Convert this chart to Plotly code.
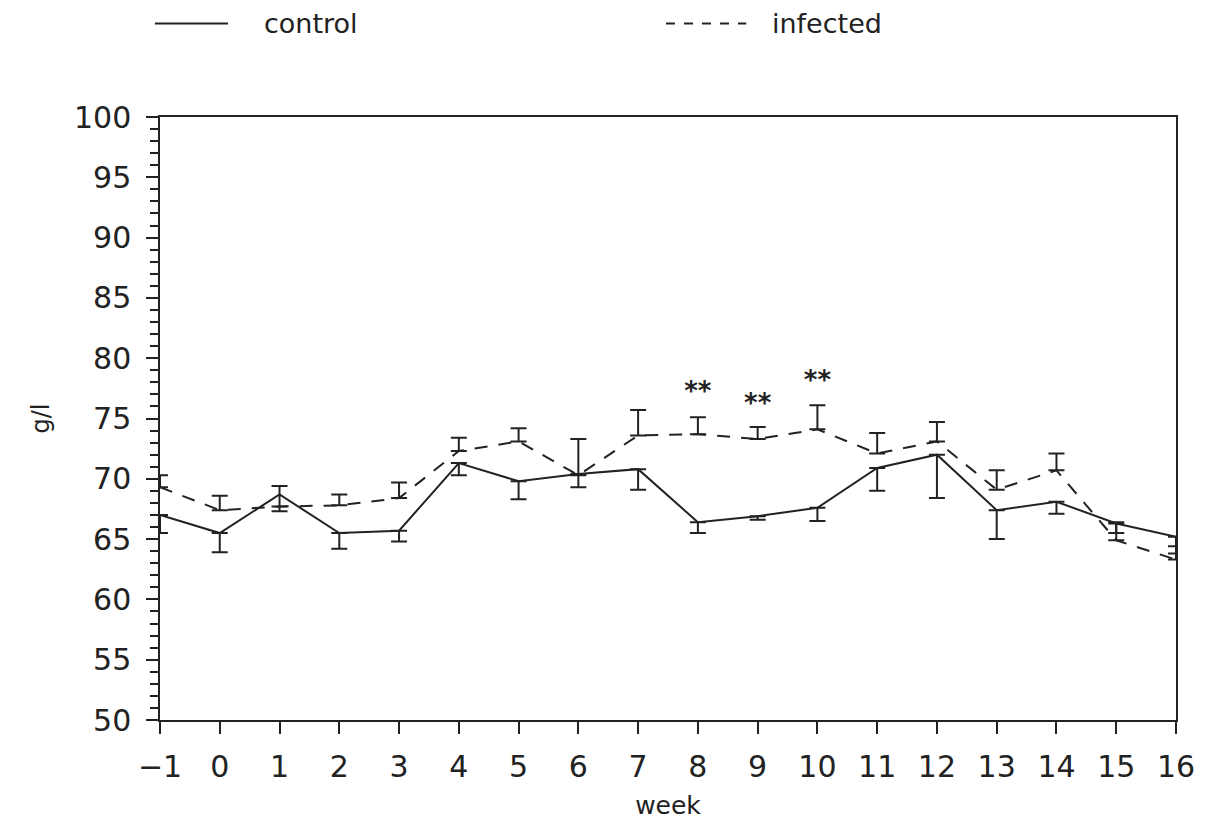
import plotly.graph_objects as go

weeks = list(range(-1, 17))
control = [67.0, 65.5, 68.7, 65.5, 65.7, 71.3, 69.8, 70.4, 70.8, 66.4, 66.9, 67.6, 70.9, 72.0, 67.4, 68.1, 66.3, 65.2]
control_up = [0, 0, 0.7, 0, 0, 0, 0, 0, 0, 0, 0, 0, 0, 0, 0, 0, 0, 0]
control_down = [1.5, 1.6, 1.4, 1.3, 0.9, 1.0, 1.5, 1.1, 1.7, 0.9, 0.3, 1.1, 1.9, 3.6, 2.4, 1.0, 0.8, 1.4]
infected = [69.3, 67.4, 67.7, 67.8, 68.4, 72.3, 73.1, 70.3, 73.6, 73.7, 73.3, 74.1, 72.1, 73.1, 69.1, 70.7, 64.9, 63.3]
infected_up = [1.0, 1.2, 0, 0.9, 1.3, 1.1, 1.1, 3.0, 2.1, 1.4, 1.0, 2.0, 1.7, 1.6, 1.6, 1.4, 1.5, 1.1]
star_weeks = [8, 9, 10]
star_y = [77.1, 76.1, 78.0]

FONT = "DejaVu Sans"
INK = "#222"
fig = go.Figure()
fig.add_trace(go.Scatter(
    x=weeks, y=control, mode="lines", name="control",
    line=dict(color=INK, width=2),
    error_y=dict(type="data", symmetric=False, array=control_up, arrayminus=control_down,
                 color=INK, thickness=2, width=8),
))
fig.add_trace(go.Scatter(
    x=weeks, y=infected, mode="lines", name="infected",
    line=dict(color=INK, width=2, dash="13px,11px"),
    error_y=dict(type="data", symmetric=False, array=infected_up, arrayminus=[0]*len(infected),
                 color=INK, thickness=2, width=8),
))
fig.add_trace(go.Scatter(
    x=star_weeks, y=star_y, mode="text", text=["<b>**</b>"]*3,
    textfont=dict(family=FONT, size=26, color=INK), showlegend=False,
))

# legend drawn manually (paper coordinates)
fig.add_shape(type="line", xref="paper", yref="paper", x0=-0.005, x1=0.067, y0=1.155, y1=1.155,
              line=dict(color=INK, width=2))
fig.add_annotation(xref="paper", yref="paper", x=0.100, y=1.155, text="control", showarrow=False,
                   xanchor="left", yanchor="middle", font=dict(family=FONT, size=27, color=INK))
fig.add_shape(type="line", xref="paper", yref="paper", x0=0.498, x1=0.577, y0=1.155, y1=1.155,
              line=dict(color=INK, width=2, dash="9px,9px"))
fig.add_annotation(xref="paper", yref="paper", x=0.600, y=1.155, text="infected", showarrow=False,
                   xanchor="left", yanchor="middle", font=dict(family=FONT, size=27, color=INK))

fig.update_layout(
    width=1213, height=823,
    margin=dict(l=152, r=45, t=109, b=111),
    paper_bgcolor="white", plot_bgcolor="white",
    showlegend=False,
    font=dict(family=FONT, color=INK),
)
fig.update_xaxes(
    range=[-1, 16], tickmode="linear", tick0=-1, dtick=1,
    ticks="outside", ticklen=12, tickwidth=1.5, tickcolor=INK,
    showline=True, linecolor=INK, linewidth=1.5, mirror=True,
    showgrid=False, zeroline=False, ticklabelstandoff=7,
    tickfont=dict(family=FONT, size=30, color=INK),
    title=dict(text="week", font=dict(family=FONT, size=25, color=INK), standoff=14),
)
fig.update_yaxes(
    range=[50, 100], tickmode="linear", tick0=50, dtick=5,
    ticks="outside", ticklen=12, tickwidth=1.5, tickcolor=INK,
    minor=dict(ticks="outside", ticklen=8, dtick=1, tickwidth=1.5, tickcolor=INK),
    showline=True, linecolor=INK, linewidth=1.5, mirror=True,
    showgrid=False, zeroline=False, ticklabelstandoff=9,
    tickfont=dict(family=FONT, size=30, color=INK),
    title=dict(text="g/l", font=dict(family=FONT, size=24, color=INK), standoff=18),
)
fig.write_html("out.html")
